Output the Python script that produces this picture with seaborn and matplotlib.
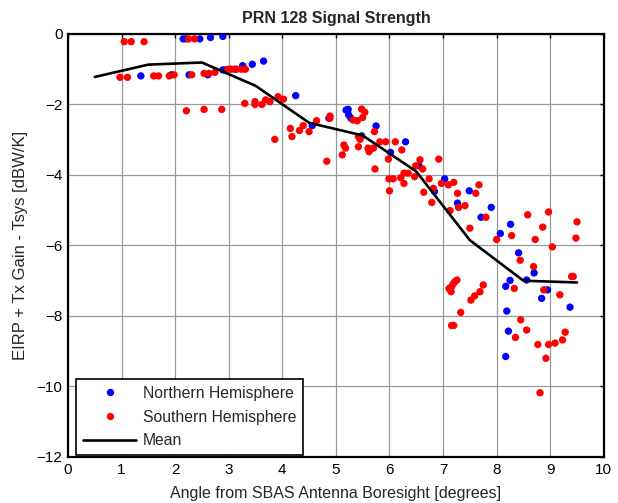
# PRN 128 signal strength vs. off-boresight angle

import numpy as np
import matplotlib
matplotlib.use("Agg")
import matplotlib.pyplot as plt
import pandas as pd
import seaborn as sns

# Northern hemisphere points (angle [deg], value [dBW/K])
north_x = [1.36, 1.93, 2.15, 2.20, 2.26, 2.46, 2.61, 2.66, 2.89, 2.89, 2.94, 3.12,
           3.26, 3.44, 3.65, 4.25, 4.56, 4.87, 5.19, 5.23, 5.24, 5.28, 5.48, 5.75,
           6.02, 6.30, 6.55, 6.84, 7.03, 7.27, 7.49, 7.71, 7.90, 8.07, 8.26, 8.41,
           8.56, 8.70, 8.25, 8.17, 8.95, 8.84, 9.37, 8.19, 8.22, 8.17]
north_y = [-1.19, -1.16, -0.14, -0.14, -1.16, -0.14, -1.16, -0.10, -0.07, -1.02, -1.02, -1.00,
           -0.90, -0.86, -0.77, -1.75, -2.60, -2.39, -2.16, -2.14, -2.30, -2.39, -2.89, -2.61,
           -3.36, -3.06, -3.74, -4.47, -4.11, -4.80, -4.45, -5.20, -4.92, -5.66, -5.40, -6.21,
           -6.98, -6.78, -6.99, -7.16, -7.26, -7.50, -7.75, -7.86, -8.43, -9.15]

# Southern hemisphere points
south_x = [1.05, 1.18, 1.42, 2.25, 2.36,
           0.97, 1.11, 1.60, 1.69, 1.89, 1.98, 2.31, 2.54, 2.63, 2.74, 2.99, 3.05, 3.15, 3.24, 3.31,
           2.21, 2.54, 2.87,
           3.30, 3.49, 3.49, 3.62, 3.69, 3.77, 3.92, 4.02,
           3.86, 4.15, 4.18, 4.32, 4.39, 4.50, 4.64, 4.83, 4.89, 4.89,
           5.48, 5.54, 5.50, 5.32, 5.40, 5.72,
           5.15, 5.18, 5.12, 5.42, 5.45, 5.42,
           5.60, 5.62, 5.70, 5.82, 5.93, 6.11, 6.23, 5.98, 5.73,
           6.57, 6.49, 6.62, 6.92,
           5.99, 6.07, 6.00, 6.21, 6.27, 6.35, 6.27, 6.47, 6.74, 6.64, 6.79, 6.82,
           6.97, 7.10, 7.20, 7.27, 7.29, 7.41, 7.13, 7.50, 7.67, 7.61, 7.80, 8.00, 8.28,
           8.58, 8.97, 8.86, 8.72, 9.04, 9.50, 9.48,
           8.44, 8.69, 8.33, 8.88, 9.18, 9.40, 9.43,
           7.11, 7.16, 7.19, 7.22, 7.26, 7.15, 7.16, 7.20, 7.33, 7.52, 7.59, 7.69, 7.75,
           8.45, 8.56, 8.35, 8.77, 8.97, 9.09, 9.23, 9.28, 8.92, 8.81]
south_y = [-0.22, -0.22, -0.22, -0.14, -0.14,
           -1.23, -1.23, -1.19, -1.19, -1.19, -1.16, -1.16, -1.12, -1.12, -1.09, -1.00, -1.00, -1.00, -1.00, -1.00,
           -2.18, -2.14, -2.14,
           -1.97, -1.92, -2.00, -2.00, -1.87, -1.92, -1.78, -1.85,
           -2.99, -2.68, -2.91, -2.74, -2.60, -2.77, -2.46, -3.61, -2.33, -2.39,
           -2.13, -2.22, -2.37, -2.44, -2.46, -2.77,
           -3.15, -3.24, -3.43, -2.91, -2.99, -3.20,
           -3.24, -3.34, -3.24, -3.06, -3.06, -3.06, -3.29, -3.55, -3.83,
           -3.57, -3.74, -3.83, -3.55,
           -4.11, -4.11, -4.45, -4.08, -3.95, -3.95, -4.24, -4.05, -4.11, -4.49, -4.78, -4.38,
           -4.24, -4.28, -4.21, -4.52, -4.92, -4.87, -5.01, -5.51, -4.28, -4.52, -5.20, -5.83, -5.72,
           -5.13, -5.05, -5.48, -5.83, -6.04, -5.33, -5.79,
           -6.42, -6.60, -7.22, -7.26, -7.40, -6.88, -6.88,
           -7.22, -7.17, -7.09, -7.03, -6.98, -7.31, -8.27, -8.27, -7.90, -7.55, -7.43, -7.31, -7.12,
           -8.11, -8.40, -8.61, -8.81, -8.81, -8.77, -8.68, -8.46, -9.20, -10.18]

# Binned mean
mean_x = [0.5, 1.5, 2.5, 3.5, 4.5, 5.5, 6.5, 7.5, 8.5, 9.5]
mean_y = [-1.22, -0.87, -0.81, -1.47, -2.52, -2.88, -3.90, -5.85, -7.00, -7.05]

df = pd.DataFrame({
    "angle": north_x + south_x,
    "value": north_y + south_y,
    "group": ["Northern Hemisphere"] * len(north_x) + ["Southern Hemisphere"] * len(south_x),
})
df_mean = pd.DataFrame({"angle": mean_x, "value": mean_y})

sns.set_style("white")
plt.rcParams["font.family"] = ["Liberation Sans", "DejaVu Sans"]

fig = plt.figure(figsize=(6.18, 5.03), dpi=100)
ax = fig.add_axes([0.110, 0.0915, 0.867, 0.841])

sns.scatterplot(data=df, x="angle", y="value", hue="group",
                palette={"Northern Hemisphere": "#0000ff", "Southern Hemisphere": "#ff0000"},
                s=28, linewidth=0, ax=ax, zorder=3)
sns.lineplot(data=df_mean, x="angle", y="value", color="black", linewidth=1.9,
             label="Mean", ax=ax, zorder=4)

ax.set_xlim(0, 10)
ax.set_ylim(-12, 0)
ax.set_xticks(np.arange(0, 11, 1))
ax.set_yticks(np.arange(-12, 1, 2))
ax.grid(True, color="#999999", linewidth=0.9)
ax.set_axisbelow(True)
ax.tick_params(direction="in", length=3, width=1, top=True, right=True,
               labelsize=11, colors="black", pad=4)
for sp in ax.spines.values():
    sp.set_color("black")
    sp.set_linewidth(1.6)

ax.set_title("PRN 128 Signal Strength", fontsize=11.5, fontweight="bold", pad=8)
ax.set_xlabel("Angle from SBAS Antenna Boresight [degrees]", fontsize=11.5, labelpad=6.5)
ax.set_ylabel("EIRP + Tx Gain - Tsys [dBW/K]", fontsize=12, labelpad=6)

leg = ax.legend(loc="lower left", bbox_to_anchor=(0.015, 0.004), borderaxespad=0,
                fontsize=11.3, frameon=True, fancybox=False, edgecolor="black",
                framealpha=1, handlelength=3.4, borderpad=0.45, labelspacing=0.55,
                handletextpad=0.4)
leg.get_frame().set_linewidth(1.2)

fig.savefig("out.png", dpi=100)
